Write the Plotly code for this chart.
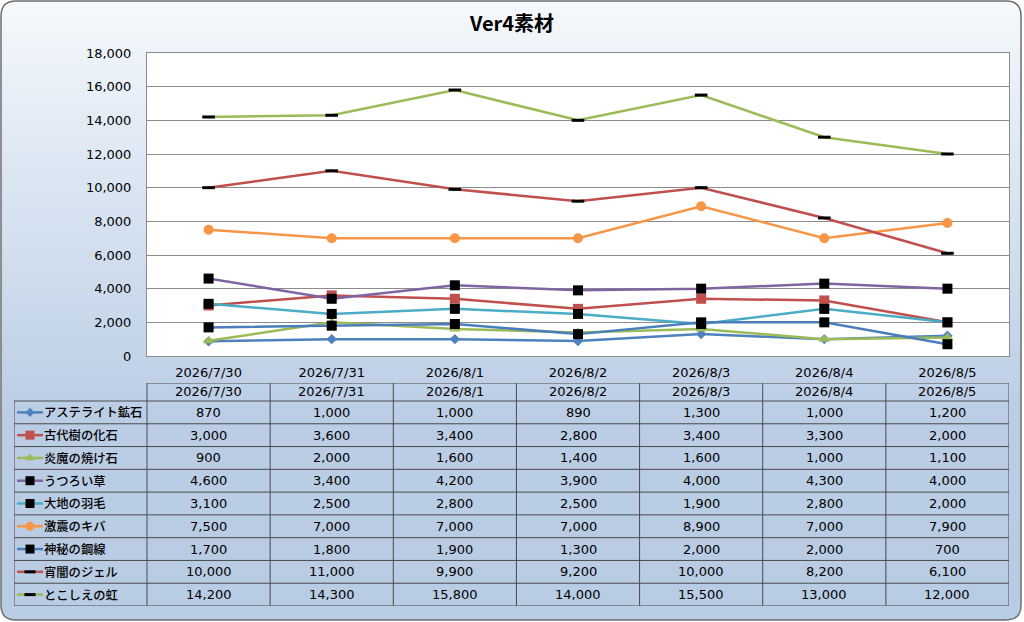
import plotly.graph_objects as go
import math

# ---------------- data ----------------
dates = ["2026/7/30", "2026/7/31", "2026/8/1", "2026/8/2", "2026/8/3", "2026/8/4", "2026/8/5"]
names = ["アステライト鉱石", "古代樹の化石", "炎魔の焼け石", "うつろい草", "大地の羽毛",
         "激震のキバ", "神秘の鋼線", "宵闇のジェル", "とこしえの虹"]
astelite = [870, 1000, 1000, 890, 1300, 1000, 1200]
kodaiju = [3000, 3600, 3400, 2800, 3400, 3300, 2000]
enma = [900, 2000, 1600, 1400, 1600, 1000, 1100]
utsuroi = [4600, 3400, 4200, 3900, 4000, 4300, 4000]
daichi = [3100, 2500, 2800, 2500, 1900, 2800, 2000]
gekishin = [7500, 7000, 7000, 7000, 8900, 7000, 7900]
shinpi = [1700, 1800, 1900, 1300, 2000, 2000, 700]
yoiyami = [10000, 11000, 9900, 9200, 10000, 8200, 6100]
tokoshie = [14200, 14300, 15800, 14000, 15500, 13000, 12000]
series_values = [astelite, kodaiju, enma, utsuroi, daichi, gekishin, shinpi, yoiyami, tokoshie]
y_ticks = [0, 2000, 4000, 6000, 8000, 10000, 12000, 14000, 16000, 18000]
title_text = "Ver4素材"

# ---------------- styles ----------------
W, H = 1024, 622
FONT = "DejaVu Sans, Noto Sans CJK JP"
JFONT = "Noto Sans CJK JP"
styles = [
    dict(color="#4F81BD", symbol="diamond", size=8, mcolor="#4F81BD", mline=0),
    dict(color="#C0504D", symbol="square", size=10, mcolor="#C0504D", mline=0),
    dict(color="#9BBB59", symbol="triangle-up", size=10, mcolor="#9BBB59", mline=0),
    dict(color="#8064A2", symbol="square", size=10, mcolor="#000000", mline=0),
    dict(color="#4BACC6", symbol="square", size=10, mcolor="#000000", mline=0),
    dict(color="#F79646", symbol="circle", size=10, mcolor="#F79646", mline=0),
    dict(color="#4A7EBB", symbol="square", size=10, mcolor="#000000", mline=0),
    dict(color="#C0504D", symbol="line-ew", size=9, mcolor="#000000", mline=3),
    dict(color="#9BBB59", symbol="line-ew", size=9, mcolor="#000000", mline=3),
]

def px(x):
    return x / W

def py(y):
    return 1 - y / H

# geometry (pixels)
PL, PR, PT, PB = 147, 1009, 53, 356          # plot area
TL, TR, THT, TRT, TB = 14, 1009, 383, 401, 606  # table
COLW = (PR - PL) / 7
ROWH = (TB - TRT) / 9
X3_MIN = -0.5 - (PL - TL) / COLW
Y3_TOP = -0.5 - (TRT - THT) / ROWH

def tx(p):
    return X3_MIN + (p - TL) / COLW

fig = go.Figure()

# main chart
for nm, vals, st in zip(names, series_values, styles):
    mk = dict(symbol=st["symbol"], size=st["size"], color=st["mcolor"])
    if st["mline"]:
        mk["line"] = dict(color=st["mcolor"], width=st["mline"])
    else:
        mk["line"] = dict(width=0)
    fig.add_trace(go.Scatter(x=dates, y=vals, mode="lines+markers", name=nm,
                             line=dict(color=st["color"], width=2.5), marker=mk,
                             xaxis="x", yaxis="y", hoverinfo="skip", showlegend=False))

# legend keys inside table (first column)
for r, (nm, st) in enumerate(zip(names, styles)):
    mk = dict(symbol=st["symbol"], size=st["size"] - 1, color=st["mcolor"], opacity=[0, 1, 0])
    if st["mline"]:
        mk["line"] = dict(color=st["mcolor"], width=st["mline"])
    else:
        mk["line"] = dict(width=0)
    fig.add_trace(go.Scatter(x=[tx(17), tx(30), tx(43)], y=[r, r, r], mode="lines+markers",
                             line=dict(color=st["color"], width=2.5), marker=mk,
                             xaxis="x3", yaxis="y3", hoverinfo="skip", showlegend=False))

shapes = []
# gradient background with rounded corners
BX0, BX1, BY0, BY1, RAD = 1, 1021, 1, 620, 15
stops = [(0, (246, 249, 252)), (100, (230, 238, 247)), (420, (186, 205, 229)), (622, (184, 204, 228))]

def grad(y):
    for (y0, c0), (y1, c1) in zip(stops[:-1], stops[1:]):
        if y0 <= y <= y1:
            t = (y - y0) / (y1 - y0)
            return "rgb(%d,%d,%d)" % tuple(round(a + (b - a) * t) for a, b in zip(c0, c1))
    return "rgb(%d,%d,%d)" % stops[-1][1]

band = 2
y = BY0
while y < BY1:
    y2 = min(y + band, BY1)
    mid = (y + y2) / 2
    inset = 0
    if mid < BY0 + RAD:
        d = BY0 + RAD - mid
        inset = RAD - math.sqrt(max(RAD * RAD - d * d, 0))
    elif mid > BY1 - RAD:
        d = mid - (BY1 - RAD)
        inset = RAD - math.sqrt(max(RAD * RAD - d * d, 0))
    shapes.append(dict(type="rect", xref="paper", yref="paper", layer="below",
                       x0=px(BX0 + inset), x1=px(BX1 - inset), y0=py(y2), y1=py(y),
                       fillcolor=grad(mid), line=dict(width=0)))
    y = y2

# white plot area
shapes.append(dict(type="rect", xref="paper", yref="paper", layer="below",
                   x0=px(PL), x1=px(PR), y0=py(PB), y1=py(PT),
                   fillcolor="white", line=dict(width=0)))

# rounded border
r = RAD
path = (f"M {px(BX0 + r)} {py(BY0)} L {px(BX1 - r)} {py(BY0)} "
        f"Q {px(BX1)} {py(BY0)} {px(BX1)} {py(BY0 + r)} L {px(BX1)} {py(BY1 - r)} "
        f"Q {px(BX1)} {py(BY1)} {px(BX1 - r)} {py(BY1)} L {px(BX0 + r)} {py(BY1)} "
        f"Q {px(BX0)} {py(BY1)} {px(BX0)} {py(BY1 - r)} L {px(BX0)} {py(BY0 + r)} "
        f"Q {px(BX0)} {py(BY0)} {px(BX0 + r)} {py(BY0)} Z")
shapes.append(dict(type="path", xref="paper", yref="paper", path=path, layer="above",
                   line=dict(color="#6E6E6E", width=1.5)))

# table lines
LC = dict(color="#4A4A4A", width=1)
ncol = len(dates)
nrow = len(names)
for k in range(nrow + 1):
    shapes.append(dict(type="line", xref="x3", yref="y3", x0=X3_MIN, x1=ncol - 0.5,
                       y0=k - 0.5, y1=k - 0.5, line=LC, layer="above"))
shapes.append(dict(type="line", xref="x3", yref="y3", x0=-0.5, x1=ncol - 0.5,
                   y0=Y3_TOP, y1=Y3_TOP, line=LC, layer="above"))
shapes.append(dict(type="line", xref="x3", yref="y3", x0=X3_MIN, x1=X3_MIN,
                   y0=-0.5, y1=nrow - 0.5, line=LC, layer="above"))
for j in range(ncol + 1):
    shapes.append(dict(type="line", xref="x3", yref="y3", x0=j - 0.5, x1=j - 0.5,
                       y0=Y3_TOP, y1=nrow - 0.5, line=LC, layer="above"))

annotations = []
TF = dict(family=FONT, size=13, color="black")
NF = dict(family=JFONT, size=12.3, color="black", weight=500)
for j, d in enumerate(dates):
    annotations.append(dict(xref="x3", yref="y3", x=j, y=(Y3_TOP - 0.5) / 2, text=d,
                            showarrow=False, font=TF, xanchor="center", yanchor="middle"))
for rr, (nm, vals) in enumerate(zip(names, series_values)):
    annotations.append(dict(xref="x3", yref="y3", x=tx(42), y=rr, text=nm, showarrow=False,
                            font=NF, xanchor="left", yanchor="middle"))
    for j, v in enumerate(vals):
        annotations.append(dict(xref="x3", yref="y3", x=j, y=rr, text=f"{v:,}",
                                showarrow=False, font=TF, xanchor="center", yanchor="middle"))

fig.update_layout(
    width=W, height=H, autosize=False,
    margin=dict(l=0, r=0, t=0, b=0, pad=0, autoexpand=False),
    paper_bgcolor="white", plot_bgcolor="rgba(0,0,0,0)",
    title=dict(text=title_text, x=0.5, xanchor="center", y=py(24), yanchor="middle",
               font=dict(family=JFONT, size=20, color="black", weight="bold")),
    xaxis=dict(domain=[px(PL), px(PR)], type="category", range=[-0.5, 6.5],
               showline=True, mirror=True, linecolor="#8C8C8C", linewidth=1,
               showgrid=False, ticks="", ticklabelstandoff=4, automargin=False,
               tickfont=dict(family=FONT, size=13, color="black"), fixedrange=True),
    yaxis=dict(domain=[py(PB), py(PT)], range=[0, 18000], tickvals=y_ticks,
               tickformat=",d", showline=True, mirror=True, linecolor="#8C8C8C", linewidth=1,
               showgrid=True, gridcolor="#8C8C8C", gridwidth=1, zeroline=False,
               ticks="", ticklabelstandoff=12, automargin=False,
               tickfont=dict(family=FONT, size=13, color="black"), fixedrange=True),
    xaxis3=dict(domain=[px(TL), px(TR)], range=[X3_MIN, ncol - 0.5], visible=False,
                anchor="y3", fixedrange=True, automargin=False),
    yaxis3=dict(domain=[py(TB), py(THT)], range=[nrow - 0.5, Y3_TOP], visible=False,
                anchor="x3", fixedrange=True, automargin=False),
    shapes=shapes,
    annotations=annotations,
    showlegend=False,
)

fig.write_html("out.html", config={"displayModeBar": False, "staticPlot": True},
               post_script="document.body.style.margin='0';document.body.style.overflow='hidden';")
